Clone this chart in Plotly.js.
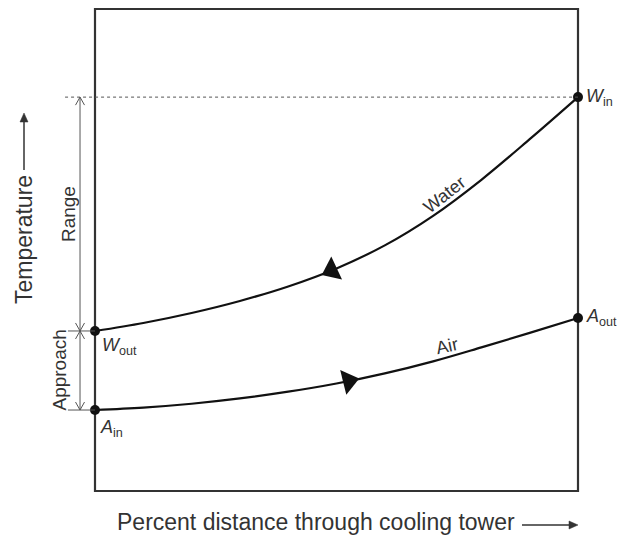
<!DOCTYPE html>
<html>
<head>
<meta charset="utf-8">
<script src="https://cdn.plot.ly/plotly-3.0.1.min.js"></script>
<style>
  html, body { margin: 0; padding: 0; background: #fff; }
  #chart { width: 622px; height: 540px; }
</style>
</head>
<body>
<div id="chart"></div>
<script>
// ---- Data (percent distance through tower vs. temperature, arbitrary units) ----
const distX  = [0, 10, 20, 30, 40, 50, 60, 70, 80, 90, 100];
const waterY = [33.2, 34.86, 36.94, 39.43, 42.44, 46.18, 50.96, 57.09, 64.57, 72.99, 81.72];
const airY   = [16.8, 17.3, 18.1, 19.2, 20.6, 22.3, 24.4, 26.9, 29.8, 32.8, 35.9];
// flow-direction arrowheads: [water, air]
const arrowX = [49, 52.5];
const arrowY = [45.8, 22.8];
const curveLabels = ["Water", "Air"];
const pointLabels = ["<i>W</i><sub>in</sub>", "<i>W</i><sub>out</sub>", "<i>A</i><sub>in</sub>", "<i>A</i><sub>out</sub>"];
const dimLabels = ["Range", "Approach"];
const xTitle = "Percent distance through cooling tower";
const yTitle = "Temperature";

const W = 622, H = 540;
const FONT = "Liberation Sans, Arial, Helvetica, sans-serif";
const TXT = "#333";
const last = a => a[a.length - 1];

// pixel frame of the box: left 95, right 578, top 9, bottom 491
const pxX = 4.83, pxY = 4.82;
const xr = [-95 / pxX, (W - 95) / pxX];
const yr = [(491 - H) / pxY, 491 / pxY];

const traces = [
  { x: distX, y: waterY, mode: "lines", line: { color: "#111", width: 2.2, shape: "spline", smoothing: 1 }, hoverinfo: "skip" },
  { x: distX, y: airY, mode: "lines", line: { color: "#111", width: 2.2, shape: "spline", smoothing: 1 }, hoverinfo: "skip" },
  { x: [distX[0], last(distX), distX[0], last(distX)], y: [waterY[0], last(waterY), airY[0], last(airY)],
    mode: "markers", marker: { color: "#111", size: 10 }, cliponaxis: false, hoverinfo: "skip" },
  { x: [arrowX[0]], y: [arrowY[0]], mode: "markers",
    marker: { symbol: "triangle-left", size: 22, angle: -25, color: "#111" }, hoverinfo: "skip" },
  { x: [arrowX[1]], y: [arrowY[1]], mode: "markers",
    marker: { symbol: "triangle-right", size: 22, angle: -14, color: "#111" }, hoverinfo: "skip" }
];

const dimX = -3.1;
const hw = 4.5 / pxX, hh = 8 / pxY; // open V head half-width / height in data units
const dimLine = { color: "#555", width: 1 };
function vHead(y, dir) { // dir +1: pointing up, -1: pointing down
  return { type: "path", xref: "x", yref: "y", line: dimLine,
    path: `M ${dimX - hw},${y - dir * hh} L ${dimX},${y} L ${dimX + hw},${y - dir * hh}` };
}
const shapes = [
  { type: "rect", xref: "x", yref: "y", x0: 0, x1: 100, y0: 0, y1: 100, line: { color: "#333", width: 2.2 }, layer: "below" },
  { type: "line", xref: "x", yref: "y", x0: -6.2, x1: 100, y0: last(waterY), y1: last(waterY), line: { color: "#555", width: 1, dash: "3px,3px" } },
  { type: "line", xref: "x", yref: "y", x0: -5.6, x1: 0, y0: waterY[0], y1: waterY[0], line: dimLine },
  { type: "line", xref: "x", yref: "y", x0: -5.6, x1: 0, y0: airY[0], y1: airY[0], line: dimLine },
  { type: "line", xref: "x", yref: "y", x0: dimX, x1: dimX, y0: airY[0], y1: last(waterY), line: dimLine },
  vHead(last(waterY), 1), vHead(waterY[0], -1), vHead(waterY[0], 1), vHead(airY[0], -1)
];

// axis-title arrows (paper coordinates)
const P = (px, py) => `${px / W},${1 - py / H}`;
shapes.push({ type: "line", xref: "paper", yref: "paper", x0: 522 / W, x1: 571 / W, y0: 1 - 525 / H, y1: 1 - 525 / H, line: { color: "#333", width: 1.5 } });
shapes.push({ type: "path", xref: "paper", yref: "paper", path: `M ${P(578, 525)} L ${P(569, 521)} L ${P(569, 529)} Z`, fillcolor: "#333", line: { color: "#333", width: 0.5 } });
shapes.push({ type: "line", xref: "paper", yref: "paper", x0: 24 / W, x1: 24 / W, y0: 1 - 170 / H, y1: 1 - 121 / H, line: { color: "#333", width: 1.5 } });
shapes.push({ type: "path", xref: "paper", yref: "paper", path: `M ${P(24, 113)} L ${P(20, 122)} L ${P(28, 122)} Z`, fillcolor: "#333", line: { color: "#333", width: 0.5 } });

const ann = [];
ann.push({ x: dimX, y: (last(waterY) + waterY[0]) / 2, xref: "x", yref: "y", text: dimLabels[0], showarrow: false,
  textangle: -90, xshift: -12, font: { family: FONT, size: 19, color: TXT } });
ann.push({ x: dimX, y: (waterY[0] + airY[0]) / 2, xref: "x", yref: "y", text: dimLabels[1], showarrow: false,
  textangle: -90, xshift: -21, font: { family: FONT, size: 19, color: TXT } });
// point labels
ann.push({ x: last(distX), y: last(waterY), xref: "x", yref: "y", text: pointLabels[0], showarrow: false,
  xanchor: "left", xshift: 6, yshift: 0, font: { family: FONT, size: 18, color: TXT } });
ann.push({ x: distX[0], y: waterY[0], xref: "x", yref: "y", text: pointLabels[1], showarrow: false,
  xanchor: "left", xshift: 5, yshift: -16, font: { family: FONT, size: 18, color: TXT } });
ann.push({ x: distX[0], y: airY[0], xref: "x", yref: "y", text: pointLabels[2], showarrow: false,
  xanchor: "left", xshift: 3, yshift: -18, font: { family: FONT, size: 18, color: TXT } });
ann.push({ x: last(distX), y: last(airY), xref: "x", yref: "y", text: pointLabels[3], showarrow: false,
  xanchor: "left", xshift: 6, yshift: 0, font: { family: FONT, size: 18, color: TXT } });
// curve labels
ann.push({ x: 72.3, y: 61.4, xref: "x", yref: "y", text: curveLabels[0], showarrow: false, textangle: -38,
  font: { family: FONT, size: 18, color: TXT } });
ann.push({ x: 72.9, y: 30.1, xref: "x", yref: "y", text: curveLabels[1], showarrow: false, textangle: -12,
  font: { family: FONT, size: 18, color: TXT } });
// axis titles
ann.push({ x: 316 / W, y: 1 - 522 / H, xref: "paper", yref: "paper", xanchor: "center", yanchor: "middle",
  text: xTitle, showarrow: false, font: { family: FONT, size: 23, color: TXT } });
ann.push({ x: 24 / W, y: 1 - 240 / H, xref: "paper", yref: "paper", xanchor: "center", yanchor: "middle",
  text: yTitle, showarrow: false, textangle: -90, font: { family: FONT, size: 23, color: TXT } });

const layout = {
  width: W, height: H,
  margin: { l: 0, r: 0, t: 0, b: 0, pad: 0 },
  paper_bgcolor: "#fff", plot_bgcolor: "#fff",
  showlegend: false,
  xaxis: { range: xr, visible: false, fixedrange: true },
  yaxis: { range: yr, visible: false, fixedrange: true },
  shapes: shapes,
  annotations: ann
};

Plotly.newPlot("chart", traces, layout, { displayModeBar: false, staticPlot: true });
</script>
</body>
</html>
